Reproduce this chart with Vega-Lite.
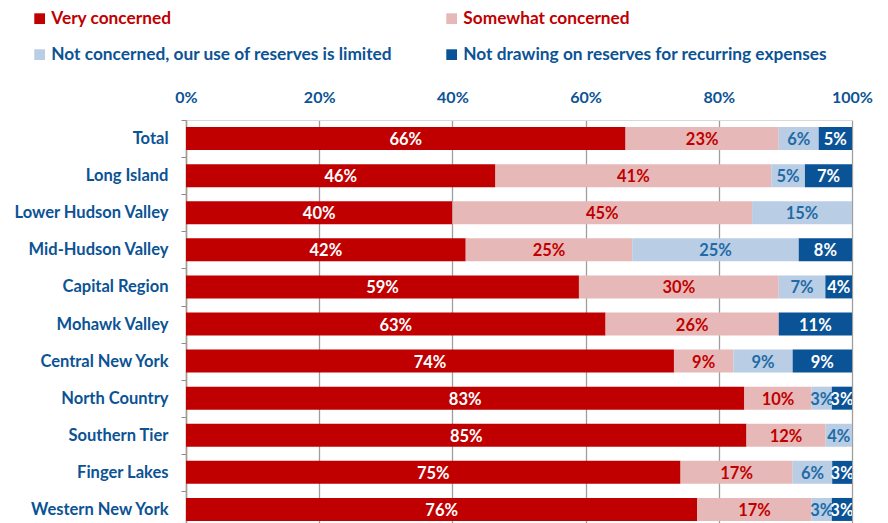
{
  "$schema": "https://vega.github.io/schema/vega-lite/v6.json",
  "width": 666,
  "height": 408,
  "autosize": {"type": "none"},
  "padding": {"left": 186, "top": 120, "right": 36, "bottom": 0},
  "background": "white",
  "config": {
    "font": "Lato",
    "view": {"stroke": null}
  },
  "data": {
    "values": [
      {"region": "Total", "cat": "Very concerned", "value": 66},
      {"region": "Total", "cat": "Somewhat concerned", "value": 23},
      {"region": "Total", "cat": "Not concerned, our use of reserves is limited", "value": 6},
      {"region": "Total", "cat": "Not drawing on reserves for recurring expenses", "value": 5},
      {"region": "Long Island", "cat": "Very concerned", "value": 46},
      {"region": "Long Island", "cat": "Somewhat concerned", "value": 41},
      {"region": "Long Island", "cat": "Not concerned, our use of reserves is limited", "value": 5},
      {"region": "Long Island", "cat": "Not drawing on reserves for recurring expenses", "value": 7},
      {"region": "Lower Hudson  Valley", "cat": "Very concerned", "value": 40},
      {"region": "Lower Hudson  Valley", "cat": "Somewhat concerned", "value": 45},
      {"region": "Lower Hudson  Valley", "cat": "Not concerned, our use of reserves is limited", "value": 15},
      {"region": "Mid-Hudson Valley", "cat": "Very concerned", "value": 42},
      {"region": "Mid-Hudson Valley", "cat": "Somewhat concerned", "value": 25},
      {"region": "Mid-Hudson Valley", "cat": "Not concerned, our use of reserves is limited", "value": 25},
      {"region": "Mid-Hudson Valley", "cat": "Not drawing on reserves for recurring expenses", "value": 8},
      {"region": "Capital Region", "cat": "Very concerned", "value": 59},
      {"region": "Capital Region", "cat": "Somewhat concerned", "value": 30},
      {"region": "Capital Region", "cat": "Not concerned, our use of reserves is limited", "value": 7},
      {"region": "Capital Region", "cat": "Not drawing on reserves for recurring expenses", "value": 4},
      {"region": "Mohawk Valley", "cat": "Very concerned", "value": 63},
      {"region": "Mohawk Valley", "cat": "Somewhat concerned", "value": 26},
      {"region": "Mohawk Valley", "cat": "Not drawing on reserves for recurring expenses", "value": 11},
      {"region": "Central New York", "cat": "Very concerned", "value": 74},
      {"region": "Central New York", "cat": "Somewhat concerned", "value": 9},
      {"region": "Central New York", "cat": "Not concerned, our use of reserves is limited", "value": 9},
      {"region": "Central New York", "cat": "Not drawing on reserves for recurring expenses", "value": 9},
      {"region": "North Country", "cat": "Very concerned", "value": 83},
      {"region": "North Country", "cat": "Somewhat concerned", "value": 10},
      {"region": "North Country", "cat": "Not concerned, our use of reserves is limited", "value": 3},
      {"region": "North Country", "cat": "Not drawing on reserves for recurring expenses", "value": 3},
      {"region": "Southern Tier", "cat": "Very concerned", "value": 85},
      {"region": "Southern Tier", "cat": "Somewhat concerned", "value": 12},
      {"region": "Southern Tier", "cat": "Not concerned, our use of reserves is limited", "value": 4},
      {"region": "Finger Lakes", "cat": "Very concerned", "value": 75},
      {"region": "Finger Lakes", "cat": "Somewhat concerned", "value": 17},
      {"region": "Finger Lakes", "cat": "Not concerned, our use of reserves is limited", "value": 6},
      {"region": "Finger Lakes", "cat": "Not drawing on reserves for recurring expenses", "value": 3},
      {"region": "Western New York", "cat": "Very concerned", "value": 76},
      {"region": "Western New York", "cat": "Somewhat concerned", "value": 17},
      {"region": "Western New York", "cat": "Not concerned, our use of reserves is limited", "value": 3},
      {"region": "Western New York", "cat": "Not drawing on reserves for recurring expenses", "value": 3}
    ]
  },
  "transform": [
    {"calculate": "indexof(['Very concerned','Somewhat concerned','Not concerned, our use of reserves is limited','Not drawing on reserves for recurring expenses'], datum.cat)", "as": "ord"},
    {"stack": "value", "groupby": ["region"], "sort": [{"field": "ord", "order": "ascending"}], "offset": "normalize", "as": ["v0", "v1"]},
    {"calculate": "(datum.v0 + datum.v1) / 2", "as": "mid"},
    {"calculate": "datum.value + '%'", "as": "label"},
    {"calculate": "datum.ord == 0 || datum.ord == 3 ? 'white' : (datum.ord == 1 ? '#C00000' : '#1F6BA5')", "as": "tc"}
  ],
  "encoding": {
    "y": {
      "field": "region",
      "type": "nominal",
      "sort": null,
      "title": null,
      "scale": {"paddingInner": 0.38, "paddingOuter": 0.19},
      "axis": {
        "labelFont": "Lato",
        "labelFontSize": 16.5,
        "labelFontWeight": "bold",
        "labelColor": "#0B5394",
        "labelPadding": 13,
        "tickSize": 5,
        "tickColor": "#8C8C8C",
        "tickOffset": -18.5,
        "labelOffset": 18.5,
        "domainColor": "#A6998F",
        "domainWidth": 1.5,
        "labelLimit": 300
      }
    }
  },
  "layer": [
    {
      "mark": {"type": "bar"},
      "encoding": {
        "x": {
          "field": "v0",
          "type": "quantitative",
          "scale": {"domain": [0, 1]},
          "title": null,
          "axis": {
            "orient": "top",
            "values": [0, 0.2, 0.4, 0.6, 0.8, 1],
            "format": ".0%",
            "ticks": false,
            "labelPadding": 15,
            "labelFont": "Lato",
            "labelFontSize": 16,
            "labelFontWeight": "bold",
            "labelColor": "#0B5394",
            "labelFlush": false,
            "grid": true,
            "gridColor": "#9E9E9E",
            "gridWidth": 1.3,
            "domainColor": "#D9D9D9"
          }
        },
        "x2": {"field": "v1"},
        "color": {
          "field": "cat",
          "type": "nominal",
          "sort": ["Very concerned", "Somewhat concerned", "Not concerned, our use of reserves is limited", "Not drawing on reserves for recurring expenses"],
          "scale": {
            "domain": ["Very concerned", "Somewhat concerned", "Not concerned, our use of reserves is limited", "Not drawing on reserves for recurring expenses"],
            "range": ["#C00000", "#E6B9B8", "#B9CDE5", "#0A5396"]
          },
          "legend": {
            "title": null,
            "orient": "none",
            "legendX": -155,
            "legendY": -110,
            "direction": "horizontal",
            "columns": 2,
            "columnPadding": 50,
            "rowPadding": 18,
            "symbolType": "square",
            "symbolSize": 115,
            "symbolStrokeWidth": 0,
            "labelFont": "Lato",
            "labelFontSize": 17.3,
            "labelFontWeight": "bold",
            "labelLimit": 500,
            "labelOffset": 3,
            "encode": {
              "labels": {
                "update": {
                  "fill": {"signal": "indexof(['Very concerned','Somewhat concerned'], datum.value) >= 0 ? '#C00000' : '#0B5394'"}
                }
              }
            }
          }
        }
      }
    },
    {
      "mark": {"type": "text", "clip": true, "font": "Lato", "fontSize": 16.5, "fontWeight": "bold", "dy": 1.5},
      "encoding": {
        "x": {"field": "mid", "type": "quantitative"},
        "text": {"field": "label"},
        "color": {"field": "tc", "type": "nominal", "scale": null}
      }
    }
  ]
}
